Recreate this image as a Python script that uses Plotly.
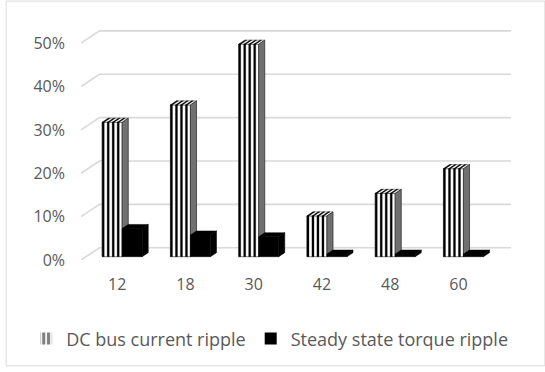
import plotly.graph_objects as go

# ---- data ----
categories = ["12", "18", "30", "42", "48", "60"]
dc_bus_ripple = [31, 35, 49, 9.4, 14.6, 20.3]      # %
torque_ripple = [6.5, 5.0, 4.6, 0.6, 0.6, 0.6]     # %
y_ticks = [0, 10, 20, 30, 40, 50]

series_names = ["DC bus current ripple", "Steady state torque ripple"]

# ---- pseudo-3D geometry (oblique projection, in axis units) ----
DX, DY = 0.271, 2.83          # full floor depth offset (x units, % units)
F0, F1 = 0.27, 0.60           # bar front / back position inside the depth
BAR_W = 0.293                 # bar width (category units)
N_STRIPES = 4                 # vertical stripes on the DC-ripple bars
STRIPE_W = 0.03               # stripe width (category units)
X_MIN, X_MAX = -0.53, 5.77
Y_MAX = 53.5

GRID = "#d9d9d9"
TXT = "#595959"
FONT = "Open Sans"


def poly(pts, out):
    for p in pts:
        out[0].append(p[0])
        out[1].append(p[1])
    out[0].append(None)
    out[1].append(None)


def faces(values, side, stripes=None):
    """front, top and right-side faces of one series' bars (+ optional stripes)"""
    front, top, right = ([], []), ([], []), ([], [])
    bx, by = F0 * DX, F0 * DY
    ddx, ddy = (F1 - F0) * DX, (F1 - F0) * DY
    period = BAR_W / N_STRIPES
    for i, v in enumerate(values):
        c = i + bx
        x0, x1 = (c - BAR_W, c) if side == 0 else (c, c + BAR_W)
        b, t = by, by + v
        poly([(x0, b), (x1, b), (x1, t), (x0, t), (x0, b)], front)
        poly([(x0, t), (x1, t), (x1 + ddx, t + ddy), (x0 + ddx, t + ddy), (x0, t)], top)
        poly([(x1, b), (x1 + ddx, b + ddy), (x1 + ddx, t + ddy), (x1, t), (x1, b)], right)
        if stripes is not None:
            for k in range(N_STRIPES):
                s0 = x0 + k * period
                s1 = s0 + STRIPE_W
                poly([(s0, b), (s1, b), (s1, t), (s0, t), (s0, b)], stripes)
                poly([(s0, t), (s1, t), (s1 + ddx, t + ddy), (s0 + ddx, t + ddy), (s0, t)],
                     stripes)
    return front, top, right


fig = go.Figure()

# back wall gridlines with the short diagonal on the side wall
for t in y_ticks:
    fig.add_trace(go.Scatter(
        x=[X_MIN, X_MIN + DX, X_MAX], y=[t, t + DY, t + DY],
        mode="lines", line=dict(color=GRID, width=1.6),
        hoverinfo="skip", showlegend=False))

dc_stripes = ([], [])
dc_front, dc_top, dc_right = faces(dc_bus_ripple, 0, dc_stripes)
tq_front, tq_top, tq_right = faces(torque_ripple, 1)


def fill_trace(face, fill, line_color, line_w):
    return go.Scatter(x=face[0], y=face[1], fill="toself", mode="lines",
                      fillcolor=fill, line=dict(color=line_color, width=line_w),
                      hoverinfo="skip", showlegend=False)


fig.add_trace(fill_trace(dc_front, "white", "#262626", 0.6))
fig.add_trace(fill_trace(dc_top, "white", "#404040", 0.5))
fig.add_trace(fill_trace(dc_stripes, "black", "black", 0.3))
fig.add_trace(fill_trace(dc_right, "#707070", "#262626", 0.7))
for face in (tq_front, tq_top, tq_right):
    fig.add_trace(fill_trace(face, "black", "black", 0.5))

# legend entries
fig.add_trace(go.Bar(x=[None], y=[None], name=series_names[0],
                     marker=dict(color="white", line=dict(width=0),
                                 pattern=dict(shape="|", fgcolor="black", bgcolor="white",
                                              size=6, solidity=0.65))))
fig.add_trace(go.Bar(x=[None], y=[None], name=series_names[1],
                     marker=dict(color="black", line=dict(width=0))))

L, R, T, B = 80.9, 33.9, 27.5, 112
W, H = 545, 372
pw, ph = W - L - R, H - T - B


def px_x(p):
    return (p - L) / pw


def px_y(p):
    return (H - B - p) / ph


fig.update_layout(
    width=W, height=H,
    margin=dict(l=L, r=R, t=T, b=B, pad=0),
    paper_bgcolor="white", plot_bgcolor="white",
    font=dict(family=FONT, size=16, color=TXT),
    xaxis=dict(range=[X_MIN, X_MAX], tickmode="array",
               tickvals=list(range(len(categories))), ticktext=categories,
               showgrid=False, zeroline=False, showline=False,
               ticks="", ticklabelstandoff=13, fixedrange=True),
    yaxis=dict(range=[0, Y_MAX], tickmode="array", tickvals=y_ticks,
               ticktext=[f"{v}%" for v in y_ticks],
               showgrid=False, zeroline=False, showline=False,
               ticks="", ticklabelstandoff=15, fixedrange=True),
    legend=dict(orientation="h", x=px_x(26), xanchor="left",
                y=px_y(339), yanchor="middle", font=dict(size=18, color=TXT),
                itemwidth=30, bgcolor="rgba(0,0,0,0)"),
    shapes=[dict(type="rect", xref="paper", yref="paper",
                 x0=px_x(6), x1=px_x(545), y0=px_y(366), y1=px_y(0.5),
                 line=dict(color=GRID, width=1), layer="below")],
    showlegend=True,
)

fig.write_html("out.html")
